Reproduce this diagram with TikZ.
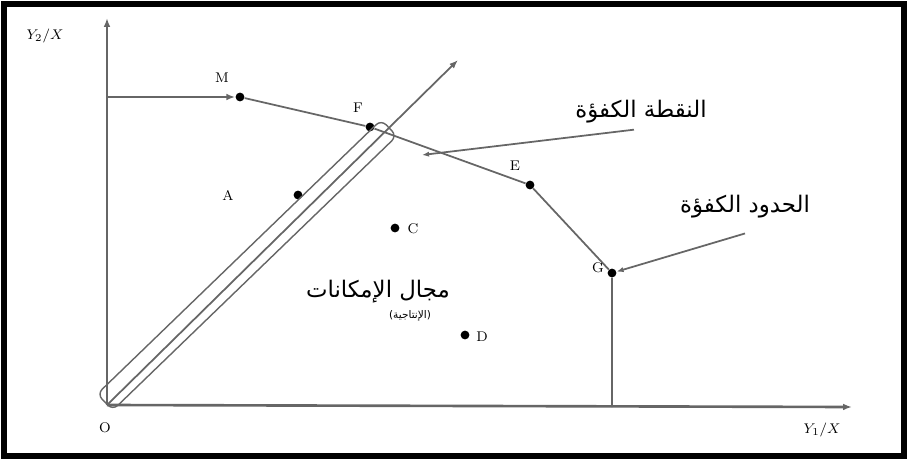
\documentclass[tikz,border=0pt]{standalone}
\usepackage{fontspec}
\newfontfamily\arabicfont[Script=Arabic]{DejaVu Sans}
\TeXXeTstate=1
\usetikzlibrary{arrows.meta,positioning}
\begin{document}
\begin{tikzpicture}[x=0.02cm,y=-0.02cm,
  pt/.style={circle,fill,inner sep=0pt,minimum size=5pt},
  lbl/.style={font=\fontsize{8}{9}\selectfont},
  ar/.style={font=\arabicfont\fontsize{13}{15}\selectfont},
  ln/.style={draw=black!60,line width=1pt}]
\useasboundingbox (0,0) rectangle (909,473);
\draw[line width=3pt] (4,4) rectangle (904,456);

 % axes
 \coordinate (O) at (107,405);
 \coordinate (ytop) at (107,18);
 \coordinate (xend) at (852,407);
 \draw[ln,line width=1.5pt,-{Latex[length=5pt]}] (O) -- (ytop);
 \draw[ln,line width=1.5pt,-{Latex[length=5pt]}] (O) -- (xend);
 \node[lbl] (o) at (105,428) {O};
 \node[lbl] (xl) at (822,430) {$Y_1/X$};
 \node[lbl] (yl) at (45,36) {$Y_2/X$};

 % points
 \node[pt](M) at (240,97){}; 
 \node[pt](F) at (370,127){};
 \node[pt](E) at (530,185){};
 \node[pt](G) at (612,273){};
 \node[pt](A) at (298,195){};
 \node[pt](C) at (395,228){};
 \node[pt](D) at (465,335){};
 \coordinate (ym) at (107,97);
 \coordinate (xg) at (612,407);
 \coordinate (rayend) at (458,60);

 \node[lbl] (m) at (222,78) {M};
 \node[lbl] (f) at (358,108) {F};
 \node[lbl] (e) at (515,166) {E};
 \node[lbl] (g) at (598,268) {G};
 \node[lbl] (a) at (228,195) {A};
 \node[lbl] (c) at (413,229) {C};
 \node[lbl] (d) at (482,337) {D};

 % frontier
 \draw[ln,-{Latex[length=5pt]}] (ym) -- (M);
 \draw[ln] (M) -- (F) -- (E) -- (G) -- (xg);

 % ray and band
 \draw[ln,-{Latex[length=5pt]}] (O) -- (rayend);
 \node[draw=black!60,line width=0.8pt,rounded corners=4pt,rotate=44,
   minimum width=7.9cm,minimum height=0.45cm,inner sep=0pt] (band) at (247,265) {};

 % labels
 \node[ar] (lab1) at (641,112) {\beginR النقطة الكفؤة\endR};
 \node[ar] (lab2) at (745,207) {\beginR الحدود الكفؤة\endR};
 \node[ar] (lab3) at (378,292) {\beginR مجال الإمكانات\endR};
 \node[ar,font=\arabicfont\fontsize{6}{7}\selectfont] (lab3b) at (410,316) {\beginR (الإنتاجية)\endR};
 \coordinate (fe) at (422,155);
 \draw[ln,{Latex[length=4pt]}-] (fe) -- ([xshift=-4pt]lab1.south);
 \draw[ln,{Latex[length=4pt]}-] (G) -- ([yshift=-5pt]lab2.south);

\end{tikzpicture}
\end{document}
